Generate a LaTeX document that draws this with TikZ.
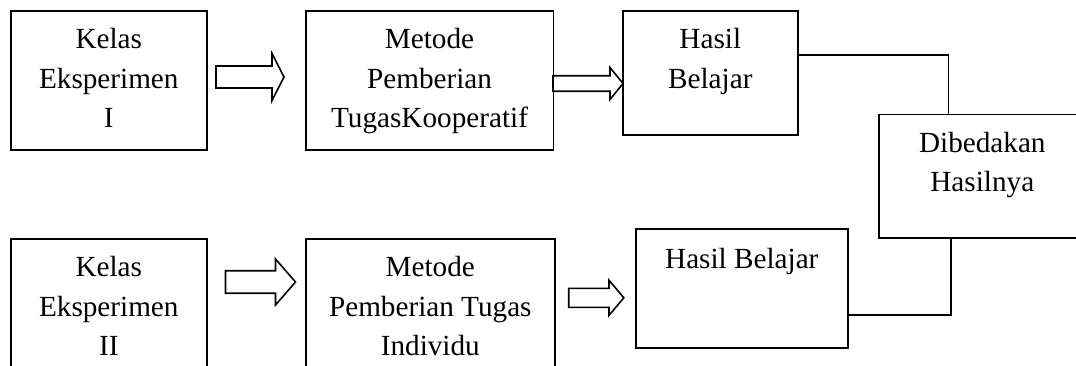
\documentclass[tikz,border=0pt]{standalone}
\usepackage{fontspec}
\setmainfont{Liberation Serif}
\usepackage{tikz}
\usetikzlibrary{positioning, calc}

% hollow block arrow: start x, head x, tip x, centre y, shaft half, head half
\newcommand{\panah}[6]{%
  \draw[garis] (#1,#4-#5) -- (#2,#4-#5) -- (#2,#4-#6) -- (#3,#4)
    -- (#2,#4+#6) -- (#2,#4+#5) -- (#1,#4+#5) -- cycle;}

\begin{document}
\begin{tikzpicture}[
  x=0.5pt, y=-0.5pt,
  garis/.style = {line width=0.8pt, line join=miter},
  kotak/.style = {draw, line width=0.8pt, inner sep=0pt, align=center,
    anchor=north west, font=\fontsize{14.6pt}{19.75pt}\selectfont},
  tiga/.style = {kotak, text height=58.5pt},
  dua/.style = {kotak, text height=38.75pt}
]
  \useasboundingbox (0,0) rectangle (1076,365);
  \clip (0,0) rectangle (1076,365);

  % upper row
  \node[tiga, minimum width=98pt, text depth=11pt] (kelas1) at (10,10)
    {Kelas\\Eksperimen\\I};
  \node[tiga, minimum width=123.75pt, text depth=11pt] (metode1) at (305,10)
    {Metode\\Pemberian\\TugasKooperatif};
  \node[dua, minimum width=87.5pt, text depth=23.25pt] (hasil1) at (622,10)
    {Hasil\\Belajar};

  % comparison box
  \node[dua, minimum width=103.5pt, text depth=23pt] (beda) at (878,113.5)
    {Dibedakan\\Hasilnya};

  % lower row
  \node[tiga, minimum width=98pt, text depth=11.5pt] (kelas2) at (10,238)
    {Kelas\\Eksperimen\\II};
  \node[tiga, minimum width=124.5pt, text depth=11.5pt] (metode2) at (305,238)
    {Metode\\Pemberian Tugas\\Individu};
  \node[kotak, minimum width=106pt, text height=19.8pt, text depth=39.7pt] (hasil2) at (635,228)
    {Hasil Belajar};

  % block arrows
  \panah{216}{272}{284}{77}{11}{23.5}
  \panah{553}{610}{623}{83.5}{7.75}{16}
  \panah{225.5}{275.5}{295.5}{282}{11.25}{23}
  \panah{568.7}{609}{623.8}{297.8}{9.5}{17.6}

  % joining lines
  \draw[garis] (hasil1.east |- 0,55) -| (beda.north -| 948.5,0);
  \draw[garis] (hasil2.east |- 0,315) -| (beda.south -| 951,0);
\end{tikzpicture}
\end{document}
